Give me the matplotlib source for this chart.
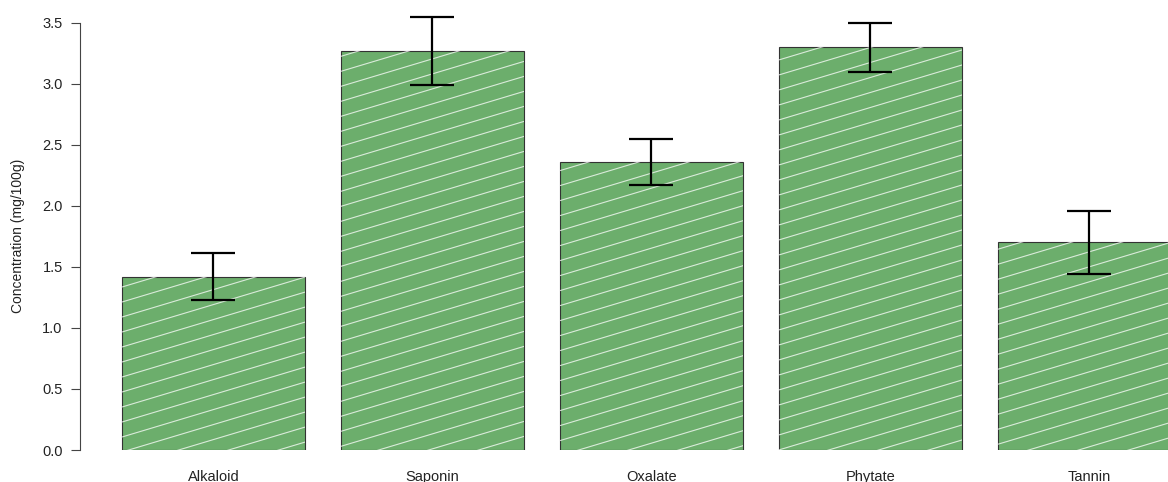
import matplotlib
matplotlib.use("Agg")
import matplotlib.pyplot as plt
import numpy as np

categories = ["Alkaloid", "Saponin", "Oxalate", "Phytate", "Tannin"]
means = [1.42, 3.27, 2.36, 3.30, 1.70]
errors = [0.19, 0.28, 0.19, 0.20, 0.26]
yticks = [0.0, 0.5, 1.0, 1.5, 2.0, 2.5, 3.0, 3.5]

plt.rcParams['font.family'] = ['Liberation Sans', 'DejaVu Sans']

W, H = 1168, 482
fig = plt.figure(figsize=(W / 100, H / 100), dpi=100)
left = 80 / W
bottom = (H - 450) / H
top = (H - 22.7) / H
ax = fig.add_axes([left, bottom, 1 - left, top - bottom])

pos = 0.7 + 1.2 * np.arange(len(categories))
bars = ax.bar(pos, means, width=1.0, color="#6cae6c", edgecolor="#333333",
              linewidth=0.8, zorder=2)

# decorative shallow diagonal white hatch lines clipped to each bar
slope = 0.3 * (W - 80) / (450 - 22.7)
spacing = 15 / (450 - 22.7)
xs = np.array([0.0, 1.0])
for b in bars:
    for c in np.arange(-2.0, 1.2, spacing):
        ln, = ax.plot(xs, c + slope * xs, transform=ax.transAxes, color="white",
                      lw=0.8, alpha=0.75, zorder=3)
        ln.set_clip_path(b)

ax.errorbar(pos, means, yerr=errors, fmt="none", ecolor="black",
            elinewidth=1.6, capsize=15.5, capthick=1.6, zorder=4, clip_on=False)

ax.set_xlim(-0.031, (W - 85.6) / 182.5)
ax.set_ylim(0, 3.5)
ax.set_yticks(yticks)
ax.set_yticklabels([f"{v:.1f}" for v in yticks], fontsize=10.5, color="#222222")
ax.set_xticks(pos)
ax.set_xticklabels(categories, fontsize=10.5, color="#222222")
ax.tick_params(axis="x", length=0, pad=14.5)
ax.tick_params(axis="y", length=6.5, width=0.8, pad=6, color="#444444")
for s in ["top", "right", "bottom"]:
    ax.spines[s].set_visible(False)
ax.spines["left"].set_bounds(0, 3.5)
ax.spines["left"].set_linewidth(0.8)
ax.spines["left"].set_color("#444444")
ax.set_ylabel("Concentration (mg/100g)", fontsize=10, color="#222222")
ax.yaxis.set_label_coords((25 - 80) / (W - 80), 0.5)

fig.savefig("out.png", dpi=100)
